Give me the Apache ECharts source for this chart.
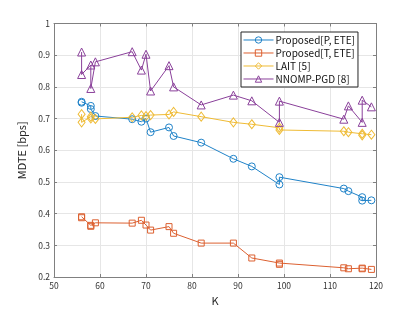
<!DOCTYPE html>
<html><head><meta charset="utf-8">
<script src="https://cdn.jsdelivr.net/npm/echarts@6/dist/echarts.min.js"></script>
<style>html,body{margin:0;padding:0;background:#fff}#c{width:415px;height:312px}</style>
</head><body><div id="c"></div>
<script>
const K = [56,56,58,58,59,67,69,70,71,75,76,82,89,93,99,99,113,114,117,117,119];
const proposedP = [0.753,0.750,0.740,0.730,0.708,0.698,0.690,0.700,0.657,0.672,0.645,0.624,0.573,0.549,0.492,0.515,0.479,0.471,0.452,0.441,0.442];
const proposedT = [0.390,0.387,0.363,0.360,0.371,0.370,0.379,0.364,0.348,0.359,0.338,0.307,0.307,0.260,0.244,0.240,0.229,0.226,0.228,0.226,0.224];
const lait = [0.714,0.688,0.706,0.700,0.699,0.704,0.710,0.708,0.711,0.713,0.721,0.706,0.688,0.682,0.671,0.664,0.660,0.657,0.652,0.647,0.649];
const nnomp = [0.910,0.839,0.869,0.795,0.879,0.911,0.853,0.903,0.787,0.867,0.800,0.743,0.774,0.756,0.688,0.755,0.698,0.740,0.688,0.758,0.737];
const names = ['Proposed[P, ETE]','Proposed[T, ETE]','LAIT [5]','NNOMP-PGD [8]'];
const xTicks = [50,60,70,80,90,100,110,120];
const yTicks = [0.2,0.3,0.4,0.5,0.6,0.7,0.8,0.9,1];

const font = '"Noto Sans CJK JP", "Noto Sans", sans-serif';
const axisCol = '#808080';
const colors = ['#1f82c8','#dc6030','#efbb35','#8a409a'];
function pts(v){ return K.map((k,i)=>[k,v[i]]); }
function ser(name, vals, color, symbol, size){
  return {name, type:'line', data:pts(vals), symbol, symbolSize:size,
    lineStyle:{color, width:1}, itemStyle:{color:'rgba(255,255,255,0)', borderColor:color, borderWidth:1},
    emphasis:{disabled:true}, animation:false, xAxisIndex:0, yAxisIndex:0};
}
const chart = echarts.init(document.getElementById('c'), null, {renderer:'canvas'});
chart.setOption({
  animation:false,
  grid:{left:54, right:39, top:23.5, bottom:35, containLabel:false},
  xAxis:[{type:'value', min:xTicks[0], max:xTicks[xTicks.length-1], interval:10,
    name:'K', nameLocation:'middle', nameGap:18, nameTextStyle:{fontFamily:font, fontSize:11, color:'#262626'},
    axisLine:{show:true, lineStyle:{color:axisCol}}, axisTick:{show:true, inside:true, length:3, lineStyle:{color:axisCol}},
    axisLabel:{fontFamily:font, fontSize:8.5, color:'#333', margin:5},
    splitLine:{show:true, lineStyle:{color:'#e6e6e6'}}},
   {type:'value', position:'top', min:50, max:120, interval:10,
    axisLine:{show:true, onZero:false, lineStyle:{color:axisCol}}, axisTick:{show:true, inside:true, length:3, lineStyle:{color:axisCol}},
    axisLabel:{show:false}, splitLine:{show:false}}],
  yAxis:[{type:'value', min:yTicks[0], max:yTicks[yTicks.length-1], interval:0.1,
    name:'MDTE [bps]', nameLocation:'middle', nameGap:21, nameTextStyle:{fontFamily:font, fontSize:11, color:'#262626'},
    axisLine:{show:true, onZero:false, lineStyle:{color:axisCol}}, axisTick:{show:true, inside:true, length:3, lineStyle:{color:axisCol}},
    axisLabel:{fontFamily:font, fontSize:8.5, color:'#333', margin:4, formatter:v=>String(+v.toFixed(1))},
    splitLine:{show:true, lineStyle:{color:'#e6e6e6'}}},
   {type:'value', position:'right', min:0.2, max:1, interval:0.1,
    axisLine:{show:true, onZero:false, lineStyle:{color:axisCol}}, axisTick:{show:true, inside:true, length:3, lineStyle:{color:axisCol}},
    axisLabel:{show:false}, splitLine:{show:false}}],
  legend:{orient:'vertical', left:241, top:32, data:names,
    backgroundColor:'#fff', borderColor:'#262626', borderWidth:1, borderRadius:0,
    padding:[3,3,3,2], itemGap:3, itemWidth:30, itemHeight:8,
    lineStyle:{width:1},
    itemStyle:{color:'rgba(255,255,255,0)', borderWidth:1},
    textStyle:{fontFamily:font, fontSize:10, color:'#111', padding:[0,0,0,-3]}},
  series:[
    ser(names[0], proposedP, colors[0], 'circle', 7),
    ser(names[1], proposedT, colors[1], 'rect', 6),
    ser(names[2], lait, colors[2], 'diamond', [7,9]),
    ser(names[3], nnomp, colors[3], 'triangle', 8)
  ]
});
</script></body></html>
